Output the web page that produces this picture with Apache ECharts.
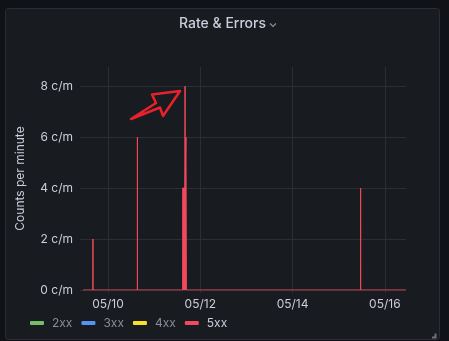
<!DOCTYPE html>
<html>
<head>
<meta charset="utf-8">
<script src="https://cdn.jsdelivr.net/npm/echarts@6/dist/echarts.min.js"></script>
<style>
html,body{margin:0;padding:0;background:#111217;}
#chart{width:449px;height:341px;}
</style>
</head>
<body>
<div id="chart"></div>
<script>
// ---- data ----
var seriesNames = ['2xx', '3xx', '4xx', '5xx'];
var seriesColors = ['#73BF69', '#5794F2', '#FADE2A', '#F2495C'];
var rangeStart = '2023-05-09 11:00';
var rangeEnd = '2023-05-16 11:00';
var xTickDates = ['2023-05-10', '2023-05-12', '2023-05-14', '2023-05-16'];
var yTickValues = [0, 2, 4, 6, 8];
var yMax = 8.75;

var times2xx = [];
var values2xx = [];
var times3xx = [];
var values3xx = [];
var times4xx = [];
var values4xx = [];
var times5xx = [
  '2023-05-09 11:00',
  '2023-05-09 16:09', '2023-05-09 16:10', '2023-05-09 16:11',
  '2023-05-10 15:17', '2023-05-10 15:18', '2023-05-10 15:19',
  '2023-05-11 14:50', '2023-05-11 14:52', '2023-05-11 16:04', '2023-05-11 16:05', '2023-05-11 16:06',
  '2023-05-11 16:30', '2023-05-11 16:33', '2023-05-11 16:45', '2023-05-11 16:47',
  '2023-05-15 11:23', '2023-05-15 11:24', '2023-05-15 11:25',
  '2023-05-16 11:00'
];
var values5xx = [
  0,
  0, 2, 0,
  0, 6, 0,
  0, 4, 4, 8, 4,
  4, 6, 6, 0,
  0, 4, 0,
  0
];

function pairs(t, v) {
  return t.map(function (tt, i) { return [tt, v[i]]; });
}
var allTimes = [times2xx, times3xx, times4xx, times5xx];
var allValues = [values2xx, values3xx, values4xx, values5xx];

var FONT = 'Inter, "Noto Sans", sans-serif';
var TEXT = '#ccccdc';
var GRID = '#2c2e34';

var chart = echarts.init(document.getElementById('chart'), null, {renderer: 'canvas'});
var xTicks = xTickDates.map(function (d) { return echarts.time.parse(d).getTime(); });

var series = seriesNames.map(function (name, i) {
  var s = {
    name: name,
    type: 'line',
    data: pairs(allTimes[i], allValues[i]),
    showSymbol: false,
    symbol: 'none',
    color: seriesColors[i],
    lineStyle: {width: 1, color: seriesColors[i]},
    z: 2 + i,
    animation: false
  };
  if (name === '5xx') {
    s.areaStyle = {color: seriesColors[i], opacity: 1};
  }
  return s;
});

var legendTextColors = ['#8a8d95', '#8a8d95', '#8a8d95', TEXT];

chart.setOption({
  backgroundColor: '#111217',
  animation: false,
  textStyle: {fontFamily: FONT},
  graphic: [
    {
      type: 'rect', z: -100, silent: true,
      shape: {x: 5.5, y: 8.5, width: 434, height: 331, r: 3},
      style: {fill: '#181b1f', stroke: '#2a2d33', lineWidth: 1}
    },
    {
      type: 'text', z: 100, silent: true,
      x: 222.5, y: 24,
      style: {text: 'Rate & Errors', fill: TEXT, font: '500 14px ' + FONT, align: 'center', verticalAlign: 'middle'}
    },
    {
      type: 'polyline', z: 100, silent: true,
      shape: {points: [[270, 23.5], [273, 26.5], [276, 23.5]]},
      style: {stroke: '#8e8e95', lineWidth: 1.2, fill: null}
    },
    {
      type: 'polygon', z: 100, silent: true,
      shape: {points: [[131, 119], [156, 103], [152, 94.5], [180, 91], [163, 116], [160, 107.5]]},
      style: {stroke: '#e8222c', lineWidth: 2.5, fill: null, lineJoin: 'round'}
    },
    {
      type: 'polygon', z: 100, silent: true,
      shape: {points: [[434.5, 333.5], [436.5, 333.5], [436.5, 338.5], [432, 338.5], [432, 336.5], [434.5, 336.5]]},
      style: {fill: '#6e7079'}
    }
  ],
  legend: {
    left: 30,
    top: 317,
    padding: 0,
    itemWidth: 14,
    itemHeight: 4,
    itemGap: 9,
    icon: 'roundRect',
    selectedMode: false,
    data: seriesNames.map(function (n, i) {
      return {name: n, textStyle: {color: legendTextColors[i]}};
    }),
    textStyle: {fontSize: 12, fontFamily: FONT, padding: [0, 0, 0, 3]}
  },
  grid: {left: 83, right: 43, top: 67, bottom: 51, containLabel: false},
  xAxis: {
    type: 'time',
    min: rangeStart,
    max: rangeEnd,
    axisLine: {show: false},
    axisTick: {show: true, length: 3, lineStyle: {color: GRID}, customValues: xTicks},
    splitLine: {show: true, lineStyle: {color: GRID, width: 1}},
    axisLabel: {
      customValues: xTicks,
      formatter: '{MM}/{dd}',
      color: TEXT, fontSize: 12, fontFamily: FONT, margin: 8
    }
  },
  yAxis: {
    type: 'value',
    min: 0,
    max: yMax,
    name: 'Counts per minute',
    nameLocation: 'middle',
    nameGap: 57,
    nameTextStyle: {color: TEXT, fontSize: 12, fontFamily: FONT},
    axisLine: {show: false},
    axisTick: {show: true, length: 3, lineStyle: {color: GRID}, customValues: yTickValues},
    splitLine: {show: true, lineStyle: {color: GRID, width: 1}},
    axisLabel: {
      customValues: yTickValues,
      formatter: '{value} c/m',
      color: TEXT, fontSize: 12, fontFamily: FONT, margin: 10
    }
  },
  series: series
});
</script>
</body>
</html>
